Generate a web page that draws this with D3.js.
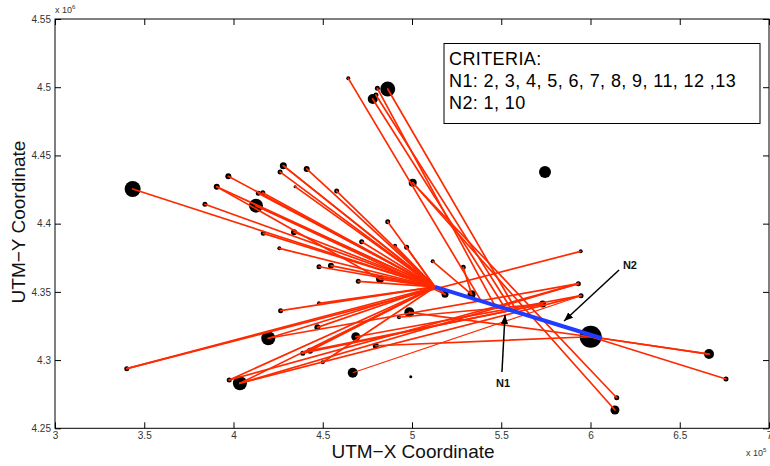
<!DOCTYPE html>
<html><head><meta charset="utf-8">
<script src="https://cdn.jsdelivr.net/npm/d3@7/dist/d3.min.js"></script>
<style>
html,body{margin:0;padding:0;background:#fff;}
svg{display:block;font-family:"Liberation Sans",Arial,Helvetica,sans-serif;}
</style></head>
<body>
<svg id="chart" width="770" height="466"></svg>
<script>
// ---- axis ticks (UTM-X in 1e5 m, UTM-Y in 1e6 m)
const xTicks = [3, 3.5, 4, 4.5, 5, 5.5, 6, 6.5, 7];
const yTicks = [4.25, 4.3, 4.35, 4.4, 4.45, 4.5, 4.55];

// ---- nodes: x (x1e5), y (x1e6), weight (marker size)
const nodeX = [3.435,3.971,3.906,3.840,4.126,4.139,4.164,4.279,4.261,4.410,4.578,4.345,4.167,4.339,4.257,4.479,4.546,4.718,4.699,4.821,4.905,4.970,5.116,4.864,5.004,
  4.643,4.806,4.864,4.780,4.798,
  4.264,4.479,4.985,4.927,4.470,4.195,4.685,4.388,4.429,4.797,4.500,4.668,3.976,4.036,3.402,
  5.287,5.185,5.334,5.732,
  5.945,5.932,5.947,6.001,6.664,6.759,6.147,6.137,
  5.745,4.993];
const nodeY = [4.4254,4.4347,4.4271,4.4142,4.4132,4.4222,4.4227,4.4425,4.4379,4.4401,4.4239,4.4271,4.3929,4.3937,4.3819,4.3684,4.3692,4.3868,4.3577,4.3594,4.3838,4.3827,4.3724,4.4014,4.4300,
  4.5065,4.4992,4.4987,4.4914,4.4943,
  4.3362,4.3416,4.3350,4.3314,4.3240,4.3160,4.3171,4.3050,4.3069,4.3105,4.2984,4.2907,4.2854,4.2830,4.2937,
  4.3680,4.3482,4.3482,4.3411,
  4.3797,4.3560,4.3472,4.3171,4.3044,4.2861,4.2724,4.2634,
  4.4379,4.2878];
const nodeWeight = [8,3,3,2.5,7,2.5,2.5,3.5,2.5,3,2.5,1.5,2.5,3,2,2.5,3,2.5,2.5,4,2,2.5,2,2.5,4,
  2,2.5,7.5,5,2.5,
  2.5,2,5,2,3,7,4.5,2.5,3,3,2,5,2.5,7,2.5,
  2.5,3.5,4,3.5,
  2,2.5,2.5,11,5,2.5,2.5,4.5,
  6,1.5];

// ---- hubs (ends of the N1-N2 connection)
const hubName = ["N1", "N2"];
const hubX = [5.129, 6.063];
const hubY = [4.3536, 4.316];

// ---- junction points on the N1-N2 connection
const juncX = [5.388, 5.462, 5.521, 5.560, 5.590];
const juncY = [4.3432, 4.3404, 4.3382, 4.3367, 4.3352];

// ---- links (n# = node number, 1-based; J# = junction)
const linkFrom = ["n1","n2","n3","n4","n5","n6","n7","n8","n9","n10","n11","n12","n13","n14","n15","n16","n17","n18","n19","n20","n21","n22","n24",
  "n5","n8","n3",
  "n23","n46","n25","n25",
  "n26","n27","n29","n30","n28",
  "n31","n32","n35","n36","n38","n39","n41","n43","n44","n45","n45","n43","n44","n36","n37","n40","n33","n34","n39","n38","n44",
  "N2","n53","n53"];
const linkTo = ["N1","N1","N1","N1","N1","N1","N1","N1","N1","N1","N1","N1","N1","N1","N1","N1","N1","N1","N1","N1","N1","N1","N1",
  "n47","n47","n20",
  "n48","n48","n56","n57",
  "J1","J2","J3","J4","J5",
  "N1","N1","N1","N1","N1","N1","N1","N1","N1","N1","n50","n51","n52","n51","n52","n53","n53","n49","n49","n49","n51",
  "n54","n54","n55"];
const thinFrom = ["n42"];
const thinTo = ["n52"];

// ---- annotations (data units)
const arrowLabel = ["N1", "N2"];
const arrowTailX = [5.504, 6.160], arrowTailY = [4.2913, 4.366];
const arrowTipX = [5.521, 5.852], arrowTipY = [4.3330, 4.3286];
const labelX = [5.510, 6.221], labelY = [4.2832, 4.3697];
const legendLines = ["CRITERIA:", "N1: 2, 3, 4, 5, 6, 7, 8, 9, 11, 12 ,13", "N2: 1, 10"];

// ---------------------------------------------------------------
const svg = d3.select("#chart");
const L = 55, R = 769, T = 19, B = 428.3;
const x = d3.scaleLinear().domain([3, 7]).range([L, R]);
const y = d3.scaleLinear().domain([4.25, 4.55]).range([B, T]);
const rScale = d3.scaleLinear().domain([0, 11]).range([0, 11]);

const pts = {};
nodeX.forEach((v, i) => pts["n" + (i + 1)] = [nodeX[i], nodeY[i]]);
hubName.forEach((n, i) => pts[n] = [hubX[i], hubY[i]]);
juncX.forEach((v, i) => pts["J" + (i + 1)] = [juncX[i], juncY[i]]);

svg.append("defs").append("clipPath").attr("id", "clip")
  .append("rect").attr("x", L).attr("y", T).attr("width", R - L).attr("height", B - T);

const plot = svg.append("g").attr("clip-path", "url(#clip)");

// nodes
plot.append("g").selectAll("circle").data(nodeX.map((v, i) => i)).join("circle")
  .attr("cx", i => x(nodeX[i])).attr("cy", i => y(nodeY[i]))
  .attr("r", i => rScale(nodeWeight[i])).attr("fill", "#000");

// red links
const red = "#ff2a00";
plot.append("g").selectAll("line").data(linkFrom.map((f, i) => [f, linkTo[i]])).join("line")
  .attr("x1", d => x(pts[d[0]][0])).attr("y1", d => y(pts[d[0]][1]))
  .attr("x2", d => x(pts[d[1]][0])).attr("y2", d => y(pts[d[1]][1]))
  .attr("stroke", red).attr("stroke-width", 1.7).attr("stroke-linecap", "round");
plot.append("g").selectAll("line").data(thinFrom.map((f, i) => [f, thinTo[i]])).join("line")
  .attr("x1", d => x(pts[d[0]][0])).attr("y1", d => y(pts[d[0]][1]))
  .attr("x2", d => x(pts[d[1]][0])).attr("y2", d => y(pts[d[1]][1]))
  .attr("stroke", red).attr("stroke-width", 1.1);

// blue N1-N2 connection
plot.append("line")
  .attr("x1", x(hubX[0])).attr("y1", y(hubY[0]))
  .attr("x2", x(hubX[1])).attr("y2", y(hubY[1]))
  .attr("stroke", "#1f3cff").attr("stroke-width", 4);

// arrows
const defs = svg.select("defs");
defs.append("marker").attr("id", "ah").attr("viewBox", "0 0 10 10")
  .attr("refX", 10).attr("refY", 5).attr("markerWidth", 9).attr("markerHeight", 9)
  .attr("markerUnits", "userSpaceOnUse").attr("orient", "auto")
  .append("path").attr("d", "M0,1 L10,5 L0,9 Z").attr("fill", "#000");
arrowLabel.forEach((lab, i) => {
  svg.append("line")
    .attr("x1", x(arrowTailX[i])).attr("y1", y(arrowTailY[i]))
    .attr("x2", x(arrowTipX[i])).attr("y2", y(arrowTipY[i]))
    .attr("stroke", "#000").attr("stroke-width", 1.5).attr("marker-end", "url(#ah)");
  svg.append("text").attr("x", x(labelX[i])).attr("y", y(labelY[i]))
    .attr("text-anchor", "middle").attr("dominant-baseline", "central")
    .attr("font-size", 11).attr("font-weight", "bold").attr("fill", "#111").text(lab);
});

// axes box
const axG = svg.append("g");
axG.append("rect").attr("x", L).attr("y", T).attr("width", R - L).attr("height", B - T)
  .attr("fill", "none").attr("stroke", "#000").attr("stroke-width", 1);

const xb = d3.axisBottom(x).tickValues(xTicks).tickSize(-6).tickFormat(d3.format("~g"));
const xt = d3.axisTop(x).tickValues(xTicks).tickSize(-6).tickFormat("");
const yl = d3.axisLeft(y).tickValues(yTicks).tickSize(-6).tickFormat(d3.format("~g"));
const yr = d3.axisRight(y).tickValues(yTicks).tickSize(-6).tickFormat("");
function style(g) {
  g.select(".domain").remove();
  g.selectAll(".tick line").attr("stroke", "#000");
  g.selectAll(".tick text").attr("fill", "#333").attr("font-size", 10)
    .attr("font-family", "Liberation Sans, Arial, sans-serif");
}
axG.append("g").attr("transform", `translate(0,${B})`).call(xb).call(style)
  .selectAll(".tick text").attr("dy", null).attr("y", 11);
axG.append("g").attr("transform", `translate(0,${T})`).call(xt).call(style);
axG.append("g").attr("transform", `translate(${L},0)`).call(yl).call(style)
  .selectAll(".tick text").attr("x", -4);
axG.append("g").attr("transform", `translate(${R},0)`).call(yr).call(style);

// exponent labels
const e6 = svg.append("text").attr("x", 55).attr("y", 13).attr("font-size", 9).attr("fill", "#333");
e6.append("tspan").text("x 10");
e6.append("tspan").attr("dy", -4).attr("font-size", 6).text("6");
const e5 = svg.append("text").attr("x", 746).attr("y", 456).attr("font-size", 9).attr("fill", "#333");
e5.append("tspan").text("x 10");
e5.append("tspan").attr("dy", -4).attr("font-size", 6).text("5");

// axis titles
svg.append("text").attr("x", 413).attr("y", 458).attr("text-anchor", "middle")
  .attr("font-size", 19).attr("fill", "#111").text("UTM\u2212X Coordinate");
svg.append("text").attr("transform", "translate(25,222) rotate(-90)").attr("text-anchor", "middle")
  .attr("font-size", 19).attr("fill", "#111").text("UTM\u2212Y Coordinate");

// legend box
const lg = svg.append("g");
lg.append("rect").attr("x", 444).attr("y", 43.5).attr("width", 316).attr("height", 80)
  .attr("fill", "#fff").attr("stroke", "#000").attr("stroke-width", 1);
legendLines.forEach((t, i) => {
  lg.append("text").attr("x", 449).attr("y", 65 + i * 22).attr("font-size", 18)
    .attr("letter-spacing", 0.4).attr("fill", "#000").text(t);
});
</script>
</body></html>
